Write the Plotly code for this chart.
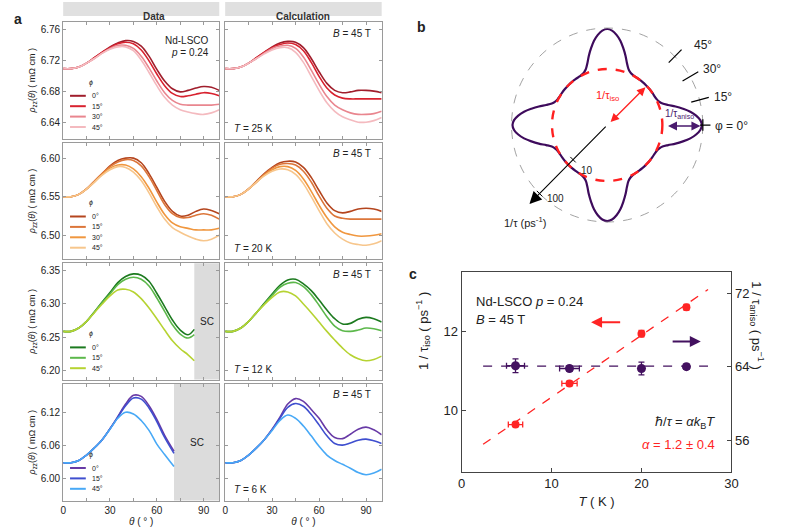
import math
import plotly.graph_objects as go

W, H = 789, 530
FONT = "Liberation Sans, Arial, sans-serif"

# ---------------- panel a : rho_zz(theta) in mOhm cm ----------------
theta = [0, 5, 10, 15, 20, 25, 30, 35, 40, 45, 50, 55, 60, 65, 70, 75, 80, 85, 90, 95, 100]
theta_12K = [0, 5, 10, 15, 20, 25, 30, 35, 40, 45, 50, 55, 60, 65, 70, 75, 80, 84]
theta_6K = [0, 5, 10, 15, 20, 25, 30, 35, 40, 45, 50, 55, 60, 65, 71]

# T = 25 K
data25_0 = [6.710, 6.710, 6.712, 6.717, 6.724, 6.731, 6.738, 6.743, 6.746, 6.745, 6.739, 6.726, 6.709, 6.694, 6.684, 6.680, 6.682, 6.685, 6.687, 6.686, 6.682]
data25_15 = [6.710, 6.710, 6.712, 6.717, 6.724, 6.731, 6.737, 6.742, 6.744, 6.742, 6.734, 6.720, 6.703, 6.688, 6.678, 6.674, 6.675, 6.677, 6.679, 6.678, 6.675]
data25_30 = [6.710, 6.710, 6.712, 6.717, 6.723, 6.730, 6.736, 6.740, 6.740, 6.736, 6.726, 6.711, 6.694, 6.679, 6.669, 6.664, 6.663, 6.663, 6.663, 6.663, 6.664]
data25_45 = [6.710, 6.710, 6.712, 6.717, 6.723, 6.730, 6.735, 6.738, 6.738, 6.733, 6.721, 6.705, 6.688, 6.673, 6.663, 6.657, 6.654, 6.652, 6.651, 6.653, 6.657]
calc25_0 = [6.710, 6.710, 6.712, 6.717, 6.724, 6.731, 6.738, 6.743, 6.745, 6.744, 6.737, 6.723, 6.706, 6.691, 6.682, 6.679, 6.680, 6.682, 6.682, 6.681, 6.679]
calc25_15 = [6.710, 6.710, 6.712, 6.717, 6.724, 6.731, 6.737, 6.741, 6.743, 6.741, 6.733, 6.718, 6.700, 6.685, 6.676, 6.672, 6.671, 6.671, 6.671, 6.671, 6.671]
calc25_30 = [6.710, 6.710, 6.712, 6.717, 6.723, 6.730, 6.736, 6.739, 6.740, 6.736, 6.725, 6.708, 6.690, 6.674, 6.663, 6.657, 6.653, 6.651, 6.651, 6.652, 6.655]
calc25_45 = [6.710, 6.710, 6.712, 6.717, 6.723, 6.729, 6.734, 6.737, 6.737, 6.731, 6.718, 6.700, 6.682, 6.666, 6.655, 6.648, 6.644, 6.641, 6.641, 6.643, 6.647]

# T = 20 K
data20_0 = [6.550, 6.550, 6.553, 6.560, 6.570, 6.580, 6.590, 6.597, 6.600, 6.600, 6.594, 6.580, 6.562, 6.544, 6.531, 6.525, 6.526, 6.531, 6.534, 6.532, 6.528]
data20_15 = [6.550, 6.550, 6.553, 6.560, 6.570, 6.580, 6.589, 6.595, 6.598, 6.597, 6.590, 6.576, 6.558, 6.540, 6.528, 6.523, 6.523, 6.526, 6.528, 6.526, 6.521]
data20_30 = [6.550, 6.550, 6.553, 6.560, 6.569, 6.579, 6.587, 6.591, 6.591, 6.586, 6.576, 6.561, 6.543, 6.527, 6.516, 6.511, 6.509, 6.507, 6.507, 6.507, 6.509]
data20_45 = [6.550, 6.550, 6.553, 6.560, 6.569, 6.578, 6.585, 6.589, 6.588, 6.582, 6.571, 6.555, 6.537, 6.521, 6.510, 6.504, 6.499, 6.495, 6.493, 6.495, 6.500]
calc20_0 = [6.550, 6.550, 6.553, 6.560, 6.570, 6.580, 6.588, 6.594, 6.596, 6.595, 6.588, 6.575, 6.558, 6.542, 6.532, 6.529, 6.531, 6.534, 6.535, 6.534, 6.531]
calc20_15 = [6.550, 6.550, 6.553, 6.560, 6.569, 6.579, 6.587, 6.592, 6.593, 6.591, 6.583, 6.569, 6.551, 6.535, 6.525, 6.522, 6.521, 6.521, 6.521, 6.521, 6.521]
calc20_30 = [6.550, 6.550, 6.553, 6.560, 6.569, 6.578, 6.585, 6.589, 6.589, 6.584, 6.573, 6.557, 6.539, 6.523, 6.511, 6.504, 6.501, 6.499, 6.499, 6.500, 6.502]
calc20_45 = [6.550, 6.550, 6.553, 6.560, 6.569, 6.577, 6.583, 6.586, 6.585, 6.579, 6.567, 6.550, 6.532, 6.515, 6.503, 6.495, 6.490, 6.488, 6.487, 6.489, 6.493]

# T = 12 K (data stops where SC sets in)
data12_0 = [6.259, 6.259, 6.264, 6.274, 6.288, 6.303, 6.317, 6.332, 6.341, 6.345, 6.343, 6.334, 6.316, 6.296, 6.276, 6.261, 6.254, 6.262]
data12_15 = [6.259, 6.259, 6.264, 6.274, 6.288, 6.302, 6.315, 6.329, 6.337, 6.340, 6.337, 6.327, 6.309, 6.289, 6.269, 6.255, 6.249, 6.254]
data12_45 = [6.259, 6.259, 6.264, 6.274, 6.287, 6.300, 6.312, 6.321, 6.322, 6.318, 6.308, 6.294, 6.278, 6.261, 6.245, 6.233, 6.224, 6.215]
calc12_0 = [6.259, 6.259, 6.264, 6.274, 6.287, 6.301, 6.315, 6.328, 6.336, 6.337, 6.330, 6.320, 6.306, 6.291, 6.278, 6.270, 6.271, 6.277, 6.280, 6.278, 6.273]
calc12_15 = [6.259, 6.259, 6.264, 6.274, 6.287, 6.300, 6.313, 6.325, 6.331, 6.332, 6.326, 6.314, 6.298, 6.281, 6.267, 6.260, 6.259, 6.261, 6.264, 6.263, 6.260]
calc12_45 = [6.259, 6.259, 6.264, 6.274, 6.287, 6.299, 6.310, 6.318, 6.318, 6.312, 6.300, 6.287, 6.273, 6.259, 6.246, 6.234, 6.224, 6.218, 6.215, 6.217, 6.222]

# T = 6 K
data6_0 = [6.029, 6.029, 6.033, 6.043, 6.056, 6.071, 6.091, 6.113, 6.136, 6.152, 6.150, 6.133, 6.108, 6.079, 6.050]
data6_15 = [6.029, 6.029, 6.033, 6.043, 6.056, 6.071, 6.091, 6.112, 6.133, 6.147, 6.145, 6.129, 6.104, 6.075, 6.046]
data6_45 = [6.029, 6.029, 6.033, 6.043, 6.056, 6.071, 6.090, 6.110, 6.121, 6.118, 6.106, 6.088, 6.063, 6.044, 6.022]
calc6_0 = [6.029, 6.029, 6.033, 6.043, 6.056, 6.071, 6.090, 6.112, 6.136, 6.146, 6.141, 6.126, 6.110, 6.089, 6.075, 6.073, 6.081, 6.090, 6.094, 6.089, 6.080]
calc6_15 = [6.029, 6.029, 6.033, 6.043, 6.056, 6.071, 6.089, 6.110, 6.130, 6.137, 6.132, 6.117, 6.098, 6.078, 6.064, 6.061, 6.065, 6.070, 6.072, 6.069, 6.064]
calc6_45 = [6.029, 6.029, 6.033, 6.043, 6.056, 6.071, 6.088, 6.106, 6.116, 6.110, 6.096, 6.078, 6.059, 6.043, 6.033, 6.026, 6.019, 6.011, 6.007, 6.010, 6.017]

temps = ["25 K", "20 K", "12 K", "6 K"]
sc_start = [None, None, 84, 71]
y_ranges = [[6.620, 6.770], [6.469, 6.620], [6.187, 6.361], [5.960, 6.173]]
y_ticks = [[6.64, 6.68, 6.72, 6.76], [6.50, 6.55, 6.60], [6.20, 6.25, 6.30, 6.35], [6.00, 6.06, 6.12]]

reds = ["#a01e2c", "#d8222f", "#e9868f", "#f4babf"]
oranges = ["#b4451e", "#dc763a", "#f0973f", "#f7c68c"]
greens = ["#1c7a1f", "#5cb84b", "#b6d332"]
blues = ["#683aa6", "#3f4fcf", "#48a9f6"]

rows = [
    dict(x_data=[theta] * 4, data=[data25_0, data25_15, data25_30, data25_45],
         calc=[calc25_0, calc25_15, calc25_30, calc25_45], colors=reds,
         labels=["0°", "15°", "30°", "45°"]),
    dict(x_data=[theta] * 4, data=[data20_0, data20_15, data20_30, data20_45],
         calc=[calc20_0, calc20_15, calc20_30, calc20_45], colors=oranges,
         labels=["0°", "15°", "30°", "45°"]),
    dict(x_data=[theta_12K] * 3, data=[data12_0, data12_15, data12_45],
         calc=[calc12_0, calc12_15, calc12_45], colors=greens,
         labels=["0°", "15°", "45°"]),
    dict(x_data=[theta_6K] * 3, data=[data6_0, data6_15, data6_45],
         calc=[calc6_0, calc6_15, calc6_45], colors=blues,
         labels=["0°", "15°", "45°"]),
]

# ---------------- panel b : schematic scattering rate ----------------
lobe_angle = [0, 3, 6, 9, 12, 15, 18, 21, 24, 27, 30, 35, 40, 45]
lobe_radius = [0.99, 0.975, 0.935, 0.88, 0.81, 0.74, 0.67, 0.62, 0.595, 0.583, 0.578, 0.577, 0.577, 0.577]
r_iso = 0.577
r_outer = 1.0
phi_marks = [15, 30, 45]

# ---------------- panel c : fitted scattering rates ----------------
T_pts = [6, 12, 20, 25]
inv_tau_iso = [9.65, 10.69, 11.95, 12.62]
iso_err = [0.05, 0.06, 0.08, 0.07]
iso_T_err = [0.8, 0.85, 0.2, 0.2]
inv_tau_aniso = [64.1, 63.8, 63.8, 64.0]
aniso_err = [0.75, 0.3, 0.7, 0.25]
aniso_T_err = [1.0, 1.1, 0.25, 0.3]
fit_T = [2.4, 27.4]
fit_iso = [9.15, 13.07]
fit_aniso = [64.05, 64.05]

fig = go.Figure()
annotations = []
shapes = []


def aid(i):
    return "" if i == 1 else str(i)


col_x = [(60, 218.3), (224.3, 383)]
row_y = [(22, 138.5), (142.7, 259.2), (263.2, 379.5), (383.8, 500.5)]
grey_line = "#9a9a9a"

for r, row in enumerate(rows):
    for c in range(2):
        i = r * 2 + c + 1
        curves = row["data"] if c == 0 else row["calc"]
        for k, yv in enumerate(curves):
            xv = row["x_data"][k] if c == 0 else theta
            fig.add_trace(go.Scatter(
                x=xv, y=yv, mode="lines", line=dict(color=row["colors"][k], width=1.6, shape="spline"),
                xaxis="x" + aid(i), yaxis="y" + aid(i), showlegend=False, hoverinfo="skip"))
        x0, x1 = col_x[c]
        y0, y1 = row_y[r]
        fig.layout["xaxis" + aid(i)] = dict(
            domain=[x0 / W, x1 / W], range=[0, 100], anchor="y" + aid(i),
            showline=True, linecolor=grey_line, linewidth=1, mirror="ticks",
            ticks="inside", ticklen=3, tickcolor=grey_line, tickvals=[0, 30, 60, 90],
            minor=dict(tickvals=[15, 45, 75], ticks="inside", ticklen=3, tickcolor=grey_line),
            showticklabels=(r == 3), showgrid=False, zeroline=False,
            tickfont=dict(size=10, color="#222"),
            title=dict(text="<i>θ</i> ( ° )", font=dict(size=10), standoff=3) if r == 3 else None)
        fig.layout["yaxis" + aid(i)] = dict(
            domain=[1 - y1 / H, 1 - y0 / H], range=y_ranges[r], anchor="x" + aid(i),
            showline=True, linecolor=grey_line, linewidth=1, mirror="ticks",
            ticks="inside", ticklen=3, tickcolor=grey_line, tickvals=y_ticks[r],
            tickformat=".2f", showticklabels=(c == 0), showgrid=False, zeroline=False,
            tickfont=dict(size=10, color="#222"),
            title=dict(text="<i>ρ</i><sub>zz</sub>(<i>θ</i>) ( mΩ cm )", font=dict(size=9),
                       standoff=3) if c == 0 else None)
        xd, yd = "x" + aid(i) + " domain", "y" + aid(i) + " domain"
        if c == 1:
            annotations.append(dict(text="<i>B</i> = 45 T", xref=xd, yref=yd, x=0.945, y=0.905,
                                    xanchor="right", yanchor="middle", showarrow=False, font=dict(size=10)))
            annotations.append(dict(text="<i>T</i> = " + temps[r], xref=xd, yref=yd, x=0.045, y=0.09,
                                    xanchor="left", yanchor="middle", showarrow=False, font=dict(size=10)))
        else:
            # superconducting region
            if sc_start[r] is not None:
                shapes.append(dict(type="rect", xref="x" + aid(i), yref=yd, x0=sc_start[r], x1=100,
                                   y0=0, y1=1, fillcolor="#dcdcdc", line=dict(width=0), layer="below"))
                annotations.append(dict(text="SC", xref="x" + aid(i), yref=yd, x=(sc_start[r] + 100) / 2,
                                        y=0.5, showarrow=False, font=dict(size=10)))
            # legend
            n = len(row["labels"])
            h = y1 - y0
            top_rel = 105 - 10.4 * (n - 1)
            annotations.append(dict(text="<i>ϕ</i>", xref=xd, yref=yd, x=0.152, y=1 - (top_rel - 13) / h,
                                    yanchor="middle", showarrow=False, font=dict(size=7)))
            for k, lab in enumerate(row["labels"]):
                yy = 1 - (top_rel + 10.4 * k) / h
                shapes.append(dict(type="line", xref=xd, yref=yd, x0=0.044, x1=0.145, y0=yy, y1=yy,
                                   line=dict(color=row["colors"][k], width=2)))
                annotations.append(dict(text=lab, xref=xd, yref=yd, x=0.17, y=yy, xanchor="left",
                                        yanchor="middle", showarrow=False, font=dict(size=7)))

annotations.append(dict(text="Nd-LSCO", xref="x domain", yref="y domain", x=0.947, y=0.905,
                        xanchor="right", showarrow=False, font=dict(size=10)))
annotations.append(dict(text="<i>p</i> = 0.24", xref="x domain", yref="y domain", x=0.947, y=0.80,
                        xanchor="right", showarrow=False, font=dict(size=10)))

# header bars
for (x0, x1), txt in zip(col_x, ["Data", "Calculation"]):
    shapes.append(dict(type="rect", xref="paper", yref="paper", x0=x0 / W, x1=x1 / W,
                       y0=1 - 16 / H, y1=1 - 2 / H, fillcolor="#e0e0e0", line=dict(width=0)))
    annotations.append(dict(text="<b>" + txt + "</b>", xref="paper", yref="paper", x=(x0 + x1) / 2 / W,
                            y=1 - 9 / H, showarrow=False, font=dict(size=10, color="#333")))

# ---------------- panel b ----------------
bx, by = "x9", "y9"
curve_x, curve_y = [], []
for q in range(4):
    centre = 90 * q
    angles = [centre - a for a in reversed(lobe_angle[1:])] + [centre + a for a in lobe_angle]
    radii = list(reversed(lobe_radius[1:])) + lobe_radius
    for a, rr in zip(angles, radii):
        curve_x.append(rr * math.cos(math.radians(a)))
        curve_y.append(rr * math.sin(math.radians(a)))
curve_x.append(curve_x[0])
curve_y.append(curve_y[0])
fig.add_trace(go.Scatter(x=curve_x, y=curve_y, mode="lines", line=dict(color="#3e0b5c", width=2.2, shape="spline"),
                         xaxis=bx, yaxis=by, showlegend=False, hoverinfo="skip"))

shapes.append(dict(type="circle", xref=bx, yref=by, x0=-r_outer, x1=r_outer, y0=-r_outer, y1=r_outer,
                   line=dict(color="#8a8a8a", width=0.8, dash="dash")))
shapes.append(dict(type="circle", xref=bx, yref=by, x0=-r_iso, x1=r_iso, y0=-r_iso, y1=r_iso,
                   line=dict(color="#ff2020", width=2.4, dash="dash")))
for a in phi_marks:
    ca, sa = math.cos(math.radians(a)), math.sin(math.radians(a))
    shapes.append(dict(type="line", xref=bx, yref=by, x0=0.91 * ca, y0=0.91 * sa, x1=1.1 * ca, y1=1.1 * sa,
                       line=dict(color="black", width=1.2)))
    annotations.append(dict(text=f"{a}°", xref=bx, yref=by, x=1.2 * ca - 0.06 + 0.1 * (a == 45),
                            y=1.2 * sa - 0.02, xanchor="left", showarrow=False, font=dict(size=12)))
shapes.append(dict(type="line", xref=bx, yref=by, x0=r_outer, x1=r_outer, y0=-0.06, y1=0.06,
                   line=dict(color="black", width=1.2)))
shapes.append(dict(type="line", xref=bx, yref=by, x0=0.97, x1=1.08, y0=0, y1=0,
                   line=dict(color="black", width=1.2)))
annotations.append(dict(text="φ = 0°", xref=bx, yref=by, x=1.11, y=-0.01, xanchor="left",
                        showarrow=False, font=dict(size=12)))

# radial log axis arrow
d = math.cos(math.radians(45))
annotations.append(dict(x=-1.15 * d, y=-1.15 * d, ax=0, ay=0, xref=bx, yref=by, axref=bx, ayref=by,
                        text="", showarrow=True, arrowhead=2, arrowsize=2.2, arrowwidth=1.1, arrowcolor="black"))
for rr, lab, off in [(0.505, "10", (0.06, -0.06)), (1.0, "100", (0.06, -0.0))]:
    px_, py_ = -rr * d, -rr * d
    shapes.append(dict(type="line", xref=bx, yref=by, x0=px_ - 0.04 * d, y0=py_ + 0.04 * d,
                       x1=px_ + 0.04 * d, y1=py_ - 0.04 * d, line=dict(color="black", width=1)))
    annotations.append(dict(text=lab, xref=bx, yref=by, x=px_ + off[0], y=py_ + off[1] - 0.05,
                            xanchor="left", showarrow=False, font=dict(size=10)))
annotations.append(dict(text="1/τ (ps<sup>-1</sup>)", xref=bx, yref=by, x=-0.86, y=-1.0,
                        showarrow=False, font=dict(size=11)))

# 1/tau_iso and 1/tau_aniso arrows
annotations.append(dict(x=0.40, y=0.39, ax=0.02, ay=0.015, xref=bx, yref=by, axref=bx, ayref=by, text="",
                        showarrow=True, arrowhead=2, startarrowhead=2, arrowside="end+start",
                        arrowsize=1.3, startarrowsize=1.3, arrowwidth=1.3, arrowcolor="#ff2020"))
annotations.append(dict(text="1/τ<sub>iso</sub>", xref=bx, yref=by, x=0.0, y=0.30, showarrow=False,
                        font=dict(size=11, color="#ff2020")))
annotations.append(dict(x=0.975, y=-0.01, ax=0.62, ay=-0.01, xref=bx, yref=by, axref=bx, ayref=by, text="",
                        showarrow=True, arrowhead=2, startarrowhead=2, arrowside="end+start",
                        arrowsize=1.2, startarrowsize=1.2, arrowwidth=1.5, arrowcolor="#4a1a6e"))
annotations.append(dict(text="1/τ<sub>aniso</sub>", xref=bx, yref=by, x=0.76, y=0.11, showarrow=False,
                        font=dict(size=10, color="#4a1a6e")))

fig.layout["xaxis9"] = dict(domain=[470 / W, 770 / W], range=[-1.461, 1.632], anchor="y9", visible=False)
fig.layout["yaxis9"] = dict(domain=[1 - 245 / H, 1 - 10 / H], range=[-1.237, 1.186], anchor="x9", visible=False)

# ---------------- panel c ----------------
red, purple = "#ff2424", "#43115f"
fig.add_trace(go.Scatter(x=fit_T, y=fit_iso, mode="lines", line=dict(color=red, width=1.3, dash="dash"),
                         xaxis="x10", yaxis="y10", showlegend=False, hoverinfo="skip"))
fig.add_trace(go.Scatter(x=fit_T, y=fit_aniso, mode="lines", line=dict(color=purple, width=1.3, dash="dash"),
                         xaxis="x10", yaxis="y11", showlegend=False, hoverinfo="skip"))
fig.add_trace(go.Scatter(x=T_pts, y=inv_tau_iso, mode="markers", marker=dict(color=red, size=8),
                         error_y=dict(type="data", array=iso_err, color=red, thickness=1.3, width=3),
                         error_x=dict(type="data", array=iso_T_err, color=red, thickness=1.3, width=3),
                         xaxis="x10", yaxis="y10", showlegend=False))
fig.add_trace(go.Scatter(x=T_pts, y=inv_tau_aniso, mode="markers", marker=dict(color=purple, size=9),
                         error_y=dict(type="data", array=aniso_err, color=purple, thickness=1.3, width=3),
                         error_x=dict(type="data", array=aniso_T_err, color=purple, thickness=1.3, width=3),
                         xaxis="x10", yaxis="y11", showlegend=False))

cx_dom = [464 / W, 737.7 / W]
cy_dom = [1 - 471.7 / H, 1 - 272.3 / H]
axis_c = dict(showline=True, linecolor="#444", linewidth=1, ticks="inside", ticklen=4, tickcolor="#444",
              showgrid=False, zeroline=False, tickfont=dict(size=13, color="#222"))
fig.layout["xaxis10"] = dict(axis_c, domain=cx_dom, range=[0, 30], anchor="y10", dtick=10, mirror=True,
                             title=dict(text="<i>T</i> ( K )", font=dict(size=13), standoff=6))
fig.layout["yaxis10"] = dict(axis_c, domain=cy_dom, range=[8.456, 13.504], anchor="x10", dtick=2)
fig.layout["yaxis11"] = dict(axis_c, domain=cy_dom, range=[52.55, 74.29], anchor="x10", overlaying="y10",
                             side="right", tickvals=[56, 64, 72])

annotations += [
    dict(text="1 / τ<sub>iso</sub> ( ps<sup>−1</sup> )", xref="paper", yref="paper", x=425 / W,
         y=1 - 372 / H, textangle=-90, showarrow=False, font=dict(size=13)),
    dict(text="1 / τ<sub>aniso</sub> ( ps<sup>−1</sup> )", xref="paper", yref="paper", x=775 / W,
         y=1 - 372 / H, textangle=90, showarrow=False, font=dict(size=13)),
    dict(text="Nd-LSCO <i>p</i> = 0.24", xref="x10 domain", yref="y10 domain", x=0.047, y=0.903,
         xanchor="left", showarrow=False, font=dict(size=13)),
    dict(text="<i>B</i> = 45 T", xref="x10 domain", yref="y10 domain", x=0.047, y=0.811,
         xanchor="left", showarrow=False, font=dict(size=13)),
    dict(text="ℏ/<i>τ</i> = <i>αk</i><sub>B</sub><i>T</i>", xref="x10 domain", yref="y10 domain", x=0.946,
         y=0.194, xanchor="right", showarrow=False, font=dict(size=13)),
    dict(text="<i>α</i> = 1.2 ± 0.4", xref="x10 domain", yref="y10 domain", x=0.946, y=0.089,
         xanchor="right", showarrow=False, font=dict(size=13, color=red)),
    dict(x=14.4, y=12.24, ax=17.8, ay=12.24, xref="x10", yref="y10", axref="x10", ayref="y10", text="",
         showarrow=True, arrowhead=2, arrowsize=1.1, arrowwidth=2, arrowcolor=red),
    dict(x=26.6, y=11.75, ax=23.3, ay=11.75, xref="x10", yref="y10", axref="x10", ayref="y10", text="",
         showarrow=True, arrowhead=2, arrowsize=1.1, arrowwidth=2, arrowcolor=purple),
]

# panel letters
for txt, x, y in [("a", 8, 9), ("b", 423, 17), ("c", 415, 274)]:
    annotations.append(dict(text="<b>" + txt + "</b>", xref="paper", yref="paper", x=x / W, y=1 - y / H,
                            showarrow=False, font=dict(size=14)))

fig.update_layout(
    width=W, height=H, margin=dict(l=0, r=0, t=0, b=0),
    paper_bgcolor="white", plot_bgcolor="white",
    font=dict(family=FONT, color="#222"),
    annotations=annotations, shapes=shapes, showlegend=False,
)

# the page has a default 8px body margin; remove it so the figure fills the window
fig.write_html("out.html", config={"displayModeBar": False},
               post_script="document.body.style.margin='0px';")
